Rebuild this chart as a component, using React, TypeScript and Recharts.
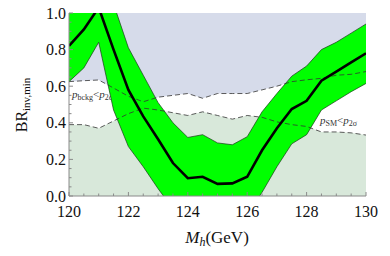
import React from 'react';
import { ComposedChart, Area, Line, XAxis, YAxis } from 'recharts';

// Higgs mass grid (GeV)
const mass = [120, 120.5, 121, 121.5, 122, 122.5, 123, 123.5, 124, 124.5, 125, 125.5, 126, 126.5, 127, 127.5, 128, 128.5, 129, 129.5, 130];

// central BR_inv,min and its band
const brCentral = [0.82, 0.91, 1.03, 0.8, 0.58, 0.435, 0.31, 0.18, 0.097, 0.105, 0.066, 0.069, 0.105, 0.25, 0.37, 0.475, 0.52, 0.63, 0.68, 0.73, 0.78];
const bandHigh = [1.15, 1.2, 1.25, 1.05, 0.81, 0.66, 0.51, 0.4, 0.32, 0.335, 0.29, 0.28, 0.324, 0.46, 0.56, 0.655, 0.71, 0.8, 0.84, 0.89, 0.94];
const bandLow = [0.625, 0.7, 0.84, 0.47, 0.27, 0.16, 0.04, -0.07, -0.15, -0.15, -0.2, -0.2, -0.1, 0.02, 0.16, 0.285, 0.335, 0.47, 0.52, 0.57, 0.615];

// exclusion boundaries (dashed)
const bkgBound = [0.625, 0.63, 0.634, 0.59, 0.545, 0.515, 0.54, 0.55, 0.56, 0.534, 0.56, 0.56, 0.56, 0.58, 0.6, 0.625, 0.635, 0.643, 0.66, 0.665, 0.68];
const smBound = [0.39, 0.39, 0.37, 0.41, 0.45, 0.48, 0.47, 0.455, 0.44, 0.46, 0.44, 0.42, 0.44, 0.43, 0.405, 0.39, 0.38, 0.35, 0.35, 0.345, 0.333];

const xTicks = [120, 120.5, 121, 121.5, 122, 122.5, 123, 123.5, 124, 124.5, 125, 125.5, 126, 126.5, 127, 127.5, 128, 128.5, 129, 129.5, 130];
const xLabels = [120, 122, 124, 126, 128, 130];
const yTicks = [0, 0.05, 0.1, 0.15, 0.2, 0.25, 0.3, 0.35, 0.4, 0.45, 0.5, 0.55, 0.6, 0.65, 0.7, 0.75, 0.8, 0.85, 0.9, 0.95, 1];
const yLabels = [0, 0.2, 0.4, 0.6, 0.8, 1];

const rows = mass.map((m, i) => ({
  m,
  central: brCentral[i],
  band: [bandLow[i], bandHigh[i]],
  bkg: [bkgBound[i], 1],
  bkgLine: bkgBound[i],
  sm: smBound[i],
}));

const FONT = "'Liberation Serif', 'DejaVu Serif', serif";
const FRAME = '#8a8a8a';
const serif = { fontFamily: FONT };

const isLabel = (list: number[], v: number) => list.some(l => Math.abs(l - v) < 1e-6);

const BottomTick = (props: any) => {
  const { x, y, payload } = props;
  const v = payload.value;
  const major = isLabel(xLabels, v);
  return (
    <g>
      <line x1={x} x2={x} y1={y} y2={y - (major ? 4 : 2.5)} stroke={FRAME} />
      {major && (
        <text x={x} y={y + 21} textAnchor="middle" fontSize={16} style={serif} fill="#111">
          {v}
        </text>
      )}
    </g>
  );
};

const TopTick = (props: any) => {
  const { x, y, payload } = props;
  const major = isLabel(xLabels, payload.value);
  return <line x1={x} x2={x} y1={y} y2={y + (major ? 4 : 2.5)} stroke={FRAME} />;
};

const LeftTick = (props: any) => {
  const { x, y, payload } = props;
  const v = payload.value;
  const major = isLabel(yLabels, v);
  return (
    <g>
      <line x1={x} x2={x + (major ? 4 : 2.5)} y1={y} y2={y} stroke={FRAME} />
      {major && (
        <text x={x - 3} y={y + 5.5} textAnchor="end" fontSize={16} style={serif} fill="#111">
          {v.toFixed(1)}
        </text>
      )}
    </g>
  );
};

const RightTick = (props: any) => {
  const { x, y, payload } = props;
  const major = isLabel(yLabels, payload.value);
  return <line x1={x} x2={x - (major ? 4 : 2.5)} y1={y} y2={y} stroke={FRAME} />;
};

export default function App() {
  return (
    <div style={{ position: 'absolute', left: 0, top: 0, width: 390, height: 256, background: '#fff', fontFamily: FONT }}>
      <ComposedChart width={390} height={256} data={rows} margin={{ top: 13, right: 24, bottom: 0, left: 0 }}>
        <XAxis
          xAxisId={0}
          dataKey="m"
          type="number"
          domain={[120, 130]}
          ticks={xTicks}
          allowDataOverflow
          height={60}
          tickSize={0}
          tickMargin={0}
          tickLine={false}
          stroke={FRAME}
          tick={BottomTick}
          interval={0}
        />
        <XAxis
          xAxisId="top"
          orientation="top"
          dataKey="m"
          type="number"
          domain={[120, 130]}
          ticks={xTicks}
          allowDataOverflow
          height={0}
          tickSize={0}
          tickMargin={0}
          tickLine={false}
          stroke={FRAME}
          tick={TopTick}
          interval={0}
        />
        <YAxis
          yAxisId={0}
          type="number"
          domain={[0, 1]}
          ticks={yTicks}
          allowDataOverflow
          width={69}
          tickSize={0}
          tickMargin={0}
          tickLine={false}
          stroke={FRAME}
          tick={LeftTick}
          interval={0}
        />
        <YAxis
          yAxisId="right"
          orientation="right"
          type="number"
          domain={[0, 1]}
          ticks={yTicks}
          allowDataOverflow
          width={0}
          tickSize={0}
          tickMargin={0}
          tickLine={false}
          stroke={FRAME}
          tick={RightTick}
          interval={0}
        />

        <Area dataKey="sm" type="linear" baseValue={0} fill="#d8e8da" fillOpacity={1} stroke="none" isAnimationActive={false} />
        <Area dataKey="bkg" type="linear" fill="#d6dbea" fillOpacity={1} stroke="none" isAnimationActive={false} />
        <Area dataKey="band" type="linear" fill="#00ff00" fillOpacity={1} stroke="#1a3a1a" strokeWidth={0.7} isAnimationActive={false} />
        <Line dataKey="bkgLine" type="linear" stroke="#333" strokeWidth={0.8} strokeDasharray="5 3" dot={false} isAnimationActive={false} />
        <Line dataKey="sm" type="linear" stroke="#333" strokeWidth={0.8} strokeDasharray="5 3" dot={false} isAnimationActive={false} />
        <Line dataKey="central" type="linear" stroke="#000" strokeWidth={2.6} dot={false} isAnimationActive={false} />

        <text x={72} y={98} style={serif} fontSize={11} fill="#333">
          <tspan fontStyle="italic">p</tspan>
          <tspan fontSize={8} dy={2}>bckg</tspan>
          <tspan dy={-2}>{'<'}</tspan>
          <tspan fontStyle="italic">p</tspan>
          <tspan fontSize={8} dy={2}>2σ</tspan>
        </text>
        <text x={320} y={124} style={serif} fontSize={11} fill="#333">
          <tspan fontStyle="italic">p</tspan>
          <tspan fontSize={8} dy={2}>SM</tspan>
          <tspan dy={-2}>{'<'}</tspan>
          <tspan fontStyle="italic">p</tspan>
          <tspan fontSize={8} dy={2}>2σ</tspan>
        </text>
        <text x={277} y={178} style={serif} fontSize={15} fill="#111">
          <tspan fontStyle="italic">σ</tspan>
          <tspan fontStyle="italic" fontSize={11} dy={3}>c</tspan>
          <tspan dy={-3}> = 0.3</tspan>
        </text>
        <text x={217} y={243} textAnchor="middle" style={serif} fontSize={17} fill="#111">
          <tspan fontStyle="italic">M</tspan>
          <tspan fontStyle="italic" fontSize={12} dy={3}>h</tspan>
          <tspan dy={-3}>(GeV)</tspan>
        </text>
        <text x={27} y={105} transform="rotate(-90 27 105)" textAnchor="middle" style={serif} fontSize={16} fill="#111">
          <tspan>BR</tspan>
          <tspan fontSize={11} dy={3}>inv,min</tspan>
        </text>
      </ComposedChart>
    </div>
  );
}
